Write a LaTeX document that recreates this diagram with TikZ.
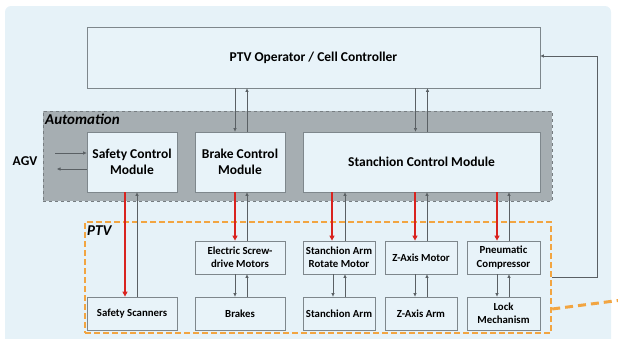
\documentclass[tikz,border=0pt]{standalone}
\usepackage{fontspec}
\setmainfont{Carlito}
\usetikzlibrary{arrows.meta,calc}
\definecolor{bgblue}{HTML}{E6F2F8}
\definecolor{boxfill}{HTML}{E8F3F9}
\definecolor{boxline}{HTML}{7E878C}
\definecolor{autogray}{HTML}{A6AEB2}
\definecolor{autoline}{HTML}{767D81}
\definecolor{ptvorange}{HTML}{F2A541}
\definecolor{sigred}{HTML}{D9231F}
\definecolor{wire}{HTML}{5A6064}
\tikzset{
  bigbox/.style={draw=boxline, line width=0.8pt, fill=boxfill, font=\bfseries\fontsize{13.5}{15.5}\selectfont, align=center, inner sep=0pt},
  smallbox/.style={draw=boxline, line width=0.8pt, fill=boxfill, font=\bfseries\fontsize{10.8}{13.2}\selectfont, align=center, inner sep=0pt, minimum height=33pt},
  thinarrow/.style={draw=wire, line width=0.7pt, -{Triangle[length=3.5pt,width=3pt]}},
  redarrow/.style={draw=sigred, line width=2.2pt, -{Triangle[length=5pt,width=5pt]}},
  grouplabel/.style={font=\bfseries\itshape\fontsize{15}{17}\selectfont, anchor=west, inner sep=0pt}
}
\begin{document}
\begin{tikzpicture}[x=1pt,y=-1pt]
\useasboundingbox (0,0) rectangle (618,338);
% background panel
\fill[bgblue, rounded corners=6pt] (5,6) rectangle (611,345);

% controller
\node[bigbox, minimum width=453pt, minimum height=61pt] (ctrl) at (313.5,57.5) {PTV Operator / Cell Controller};

% automation region
\node[draw=autoline, dashed, fill=autogray, line width=0.7pt, minimum width=509pt, minimum height=90pt, inner sep=0pt] (auto) at (297.5,156) {};
\node[grouplabel] (autolbl) at (45,119) {Automation};

\node[bigbox, minimum width=90pt, minimum height=60pt] (scm) at (132,162) {Safety Control\\Module};
\node[bigbox, minimum width=90pt, minimum height=60pt] (bcm) at (240,162) {Brake Control\\Module};
\node[bigbox, minimum width=237pt, minimum height=60pt] (stcm) at (421.5,162) {Stanchion Control Module};

% AGV
\node[font=\bfseries\fontsize{13.5}{15}\selectfont, inner sep=0pt] (agv) at (25,161) {AGV};
\coordinate (agvin) at (55,153);
\coordinate (agvout) at (57,169);
\draw[thinarrow] (agvin) -- (agvin -| scm.west);
\draw[thinarrow] (agvout -| scm.west) -- (agvout);

% PTV region
\node[draw=ptvorange, dashed, dash pattern=on 6pt off 3pt, line width=2.4pt, minimum width=466pt, minimum height=111pt, inner sep=0pt] (ptv) at (318,277.5) {};
\node[grouplabel] (ptvlbl) at (87,231) {PTV};

% PTV row 1
\node[smallbox, minimum width=90pt] (emot) at (240,257.5) {Electric Screw-\\drive Motors};
\node[smallbox, minimum width=72pt] (srot) at (339,257.5) {Stanchion Arm\\Rotate Motor};
\node[smallbox, minimum width=72pt] (zmot) at (421,257.5) {Z-Axis Motor};
\node[smallbox, minimum width=73pt] (pneu) at (503.5,257.5) {Pneumatic\\Compressor};
% PTV row 2
\node[smallbox, minimum width=90pt] (scan) at (132,313.5) {Safety Scanners};
\node[smallbox, minimum width=90pt] (brk) at (240,313.5) {Brakes};
\node[smallbox, minimum width=72pt] (sarm) at (339,313.5) {Stanchion Arm};
\node[smallbox, minimum width=72pt] (zarm) at (421,313.5) {Z-Axis Arm};
\node[smallbox, minimum width=73pt] (lock) at (503.5,313.5) {Lock\\Mechanism};

% controller <-> modules
\draw[thinarrow] ([xshift=-5pt]ctrl.south -| bcm.north) -- ([xshift=-5pt]bcm.north);
\draw[thinarrow] ([xshift=7pt]bcm.north) -- ([xshift=7pt]ctrl.south -| bcm.north);
\draw[thinarrow] ([xshift=-5.5pt]ctrl.south -| zmot.north) -- ([xshift=-5.5pt]stcm.north -| zmot.north);
\draw[thinarrow] ([xshift=6.5pt]stcm.north -| zmot.north) -- ([xshift=6.5pt]ctrl.south -| zmot.north);

% module -> PTV (red) and feedback
\draw[redarrow] ([xshift=-7pt]scm.south) -- ([xshift=-7pt]scan.north);
\draw[thinarrow] ([xshift=5pt]scan.north) -- ([xshift=5pt]scm.south);
\draw[redarrow] ([xshift=-5pt]bcm.south) -- ([xshift=-5pt]emot.north);
\draw[thinarrow] ([xshift=7pt]emot.north) -- ([xshift=7pt]bcm.south);
\draw[redarrow] ([xshift=-7pt]stcm.south -| srot.north) -- ([xshift=-7pt]srot.north);
\draw[thinarrow] ([xshift=6pt]srot.north) -- ([xshift=6pt]stcm.south -| srot.north);
\draw[redarrow] ([xshift=-6pt]stcm.south -| zmot.north) -- ([xshift=-6pt]zmot.north);
\draw[thinarrow] ([xshift=6pt]zmot.north) -- ([xshift=6pt]stcm.south -| zmot.north);
\draw[redarrow] ([xshift=-6.5pt]stcm.south -| pneu.north) -- ([xshift=-6.5pt]pneu.north);
\draw[thinarrow] ([xshift=5.5pt]pneu.north) -- ([xshift=5.5pt]stcm.south -| pneu.north);

% row1 <-> row2
\foreach \a/\b/\l/\r in {emot/brk/-5/7, srot/sarm/-6/6, zmot/zarm/-6/6, pneu/lock/-6.5/5.5}{
  \draw[thinarrow] ([xshift=\l pt]\a.south) -- ([xshift=\l pt]\b.north);
  \draw[thinarrow] ([xshift=\r pt]\b.north) -- ([xshift=\r pt]\a.south);
}

% feedback loop PTV -> controller
\coordinate (fbtop) at (597,56);
\draw[thinarrow] ([yshift=0.5pt]ptv.east) -| (fbtop) -- (fbtop -| ctrl.east);

% orange extension
\coordinate (oext) at (618,300.5);
\draw[ptvorange, line width=3pt, dash pattern=on 8pt off 5pt] ([yshift=-31.5pt]ptv.east) -- (oext);
\end{tikzpicture}
\end{document}
